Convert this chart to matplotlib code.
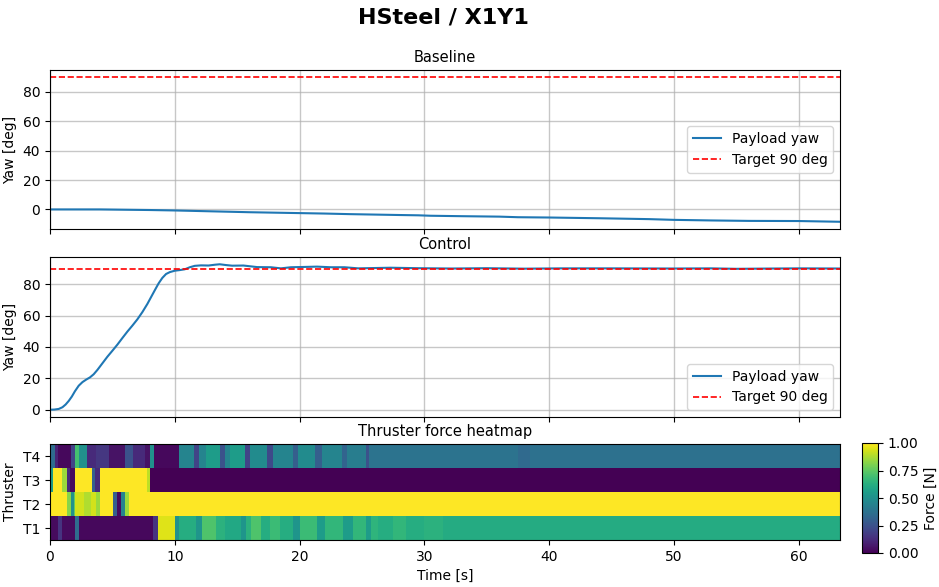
import numpy as np
import matplotlib
matplotlib.use("Agg")
import matplotlib.pyplot as plt
from matplotlib.ticker import MultipleLocator

# ---------------- data ----------------
T_END = 63.3
TARGET = 90.0

base_t = [0, 2, 4, 6, 8, 10, 12, 14, 16, 18, 20, 22, 24, 26, 28, 29.5, 30.5, 33, 36, 37.5, 40, 44, 48, 50, 53, 56, 60, 63.3]
base_yaw = [0.0, 0.0, 0.0, -0.2, -0.4, -0.7, -1.1, -1.5, -1.9, -2.2, -2.5, -2.8, -3.2, -3.5, -3.8, -4.0, -4.3, -4.6, -4.9, -5.3, -5.5, -6.0, -6.6, -7.1, -7.5, -7.8, -7.9, -8.4]

ctrl_t = [0, 0.35, 0.7, 1.0, 1.25, 1.5, 1.75, 2.0, 2.3, 2.6, 2.9, 3.2, 3.5, 3.8, 4.2, 4.6, 5.0, 5.4, 5.8, 6.2, 6.6, 7.0, 7.4, 7.8, 8.1, 8.4, 8.7, 9.0, 9.3, 9.6, 10.0, 10.4, 10.8, 11.2, 11.6, 12.1, 12.7, 13.2, 13.6, 14.1, 14.6, 15.5, 16.6, 17.7, 18.5, 19.3, 20.4, 21.4, 22.5, 23.6, 24.7, 26.0, 27.3, 29.5, 32.2, 35, 38, 41, 45, 50, 53, 55, 58, 60, 63.3]
ctrl_yaw = [0.0, 0.1, 0.5, 1.6, 3.3, 5.6, 8.4, 11.8, 15.3, 17.6, 19.2, 20.6, 22.6, 25.4, 29.6, 33.8, 37.6, 41.5, 45.7, 49.8, 53.6, 57.6, 62.2, 67.4, 71.8, 76.2, 80.5, 84.0, 86.5, 87.7, 88.6, 89.0, 89.5, 90.8, 91.7, 92.0, 91.9, 92.4, 92.7, 92.2, 91.8, 91.9, 90.9, 90.8, 90.1, 90.8, 91.0, 91.2, 90.8, 90.8, 90.1, 90.3, 90.5, 90.2, 90.0, 90.2, 89.9, 90.1, 90.1, 90.0, 90.1, 89.8, 90.0, 90.1, 90.0]

thrusters = ["T1", "T2", "T3", "T4"]

# piecewise-constant force segments: (start time [s], force [N])
seg_T1 = [(0, 0.03), (0.67, 0.15), (1.0, 0.03), (2.0, 0.35), (2.3, 0.02), (8.25, 0.15), (8.65, 0.95),
          (10.0, 0.5), (10.3, 0.62), (11.7, 0.52), (12.2, 0.72), (13.3, 0.64), (14.0, 0.6), (15.3, 0.52),
          (15.7, 0.64), (16.1, 0.72), (16.9, 0.62), (17.6, 0.68), (18.4, 0.62), (19.5, 0.52), (20.0, 0.68),
          (21.4, 0.55), (22.0, 0.66), (23.5, 0.55), (24.3, 0.66), (25.3, 0.55), (25.7, 0.65), (26.3, 0.62),
          (27.5, 0.66), (28.5, 0.62), (30.0, 0.64), (31.5, 0.61), (63.3, 0.61)]
seg_T2 = [(0, 1.0), (1.33, 0.82), (1.65, 0.5), (1.9, 0.75), (2.0, 0.93), (2.7, 0.88), (3.3, 0.93),
          (3.7, 0.85), (4.0, 1.0), (5.07, 0.3), (5.33, 0.03), (5.7, 0.45), (6.0, 0.85), (6.3, 1.0), (63.3, 1.0)]
seg_T3 = [(0, 0.55), (0.27, 1.0), (1.0, 0.85), (1.33, 0.12), (1.6, 0.03), (2.0, 1.0), (3.33, 0.3),
          (3.6, 0.12), (4.0, 1.0), (7.8, 0.9), (8.0, 0.0), (63.3, 0.0)]
seg_T4 = [(0, 0.35), (0.4, 0.10), (0.67, 0.02), (1.65, 0.20), (2.0, 0.70), (2.3, 0.50), (3.0, 0.12),
          (3.7, 0.16), (4.7, 0.05), (6.0, 0.25), (6.67, 0.12), (7.6, 0.05), (8.0, 0.50), (8.3, 0.02),
          (10.3, 0.45), (11.5, 0.2), (11.9, 0.45), (12.5, 0.55), (13.6, 0.25), (14.0, 0.45), (14.4, 0.55),
          (15.6, 0.2), (16.0, 0.48), (17.4, 0.22), (17.9, 0.45), (19.5, 0.3), (19.9, 0.48), (21.2, 0.3),
          (21.8, 0.45), (23.4, 0.32), (23.8, 0.42), (25.3, 0.25), (25.6, 0.38), (37.5, 0.34), (38.5, 0.37),
          (63.3, 0.37)]

# ---------------- figure ----------------
W, H = 939, 587
fig = plt.figure(figsize=(W / 100, H / 100), dpi=100)

def rect(l, t, r, b):
    return [l / W, 1 - b / H, (r - l) / W, (b - t) / H]

ax1 = fig.add_axes(rect(50, 70, 840, 229))
ax2 = fig.add_axes(rect(50, 257, 840, 417), sharex=ax1)
ax3 = fig.add_axes(rect(50, 444, 840, 540), sharex=ax1)
cax = fig.add_axes(rect(862, 443, 878, 553))

fig.suptitle("HSteel / X1Y1", fontsize=16, fontweight="bold", x=443 / W, y=0.988)

for ax, t, y, title, loc in [(ax1, base_t, base_yaw, "Baseline", "center right"),
                             (ax2, ctrl_t, ctrl_yaw, "Control", "lower right")]:
    ax.plot(t, y, color="C0", lw=1.5, label="Payload yaw")
    ax.axhline(TARGET, color="red", ls="--", lw=1.2, label="Target 90 deg")
    ax.set_title(title, fontsize=10.5)
    ax.set_ylabel("Yaw [deg]")
    ax.yaxis.set_major_locator(MultipleLocator(20))
    ax.grid(True, color="#b0b0b0", lw=1.0, alpha=0.7)
    ax.legend(loc=loc)
    ax.tick_params(labelbottom=False)

ax1.set_xlim(0, T_END)

# heatmap
def seg_to_row(seg, edges):
    centers = 0.5 * (edges[:-1] + edges[1:])
    starts = np.array([s for s, _ in seg])
    vals = np.array([v for _, v in seg])
    idx = np.searchsorted(starts, centers, side="right") - 1
    return vals[np.clip(idx, 0, len(vals) - 1)]

edges = np.unique(np.concatenate([[s for s, _ in seg] for seg in (seg_T1, seg_T2, seg_T3, seg_T4)]))
edges = edges[edges <= T_END]
Z = np.vstack([seg_to_row(s, edges) for s in (seg_T1, seg_T2, seg_T3, seg_T4)])
mesh = ax3.pcolormesh(edges, np.arange(len(thrusters) + 1) - 0.5, Z, cmap="viridis", vmin=0, vmax=1,
                      shading="flat")
ax3.set_yticks(range(len(thrusters)))
ax3.set_yticklabels(thrusters)
ax3.set_ylim(-0.5, len(thrusters) - 0.5)
ax3.set_title("Thruster force heatmap", fontsize=10.5)
ax3.set_ylabel("Thruster")
ax3.set_xlabel("Time [s]")
ax3.set_xlim(0, T_END)

cb = fig.colorbar(mesh, cax=cax)
cb.set_ticks([0, 0.25, 0.5, 0.75, 1.0])
cb.set_label("Force [N]")

fig.savefig("out.png", dpi=100)
